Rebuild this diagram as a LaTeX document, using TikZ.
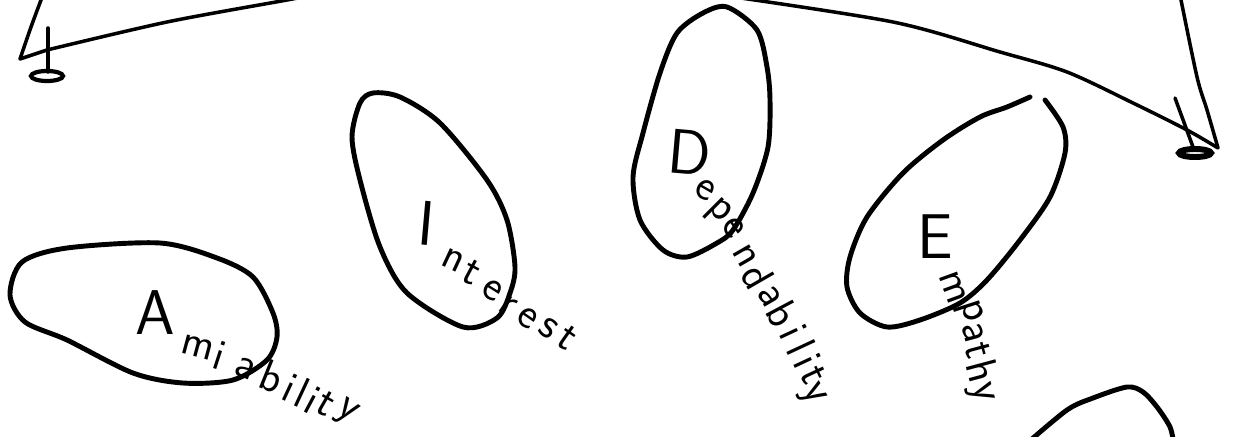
\documentclass[tikz,border=0pt]{standalone}
\begin{document}
\begin{tikzpicture}[x=0.02cm,y=-0.02cm,
    blob/.style={line width=2.8pt, line join=round, line cap=round},
    rim/.style={line width=2pt, line join=round, line cap=round},
    bigletter/.style={font=\sffamily\fontsize{36}{36}\selectfont, inner sep=0pt},
    smallletter/.style={font=\sffamily\fontsize{25}{25}\selectfont, inner sep=0pt}]
    \clip (0,0) rectangle (1239,436);
    % banner over the top
    \draw[rim] plot[smooth] coordinates {(44,-8) (31,27) (20,59)}
        -- (47,50) -- plot[smooth] coordinates {(47,50) (167,22) (287,0) (330,-8)};
    \draw[rim] plot[smooth] coordinates {(720,-5) (893,22) (1000,52) (1067,72) (1133,103) (1187,130) (1218,148)}
        -- plot[smooth] coordinates {(1218,148) (1207,110) (1197,77) (1180,-5)};
    % the two ticks
    \draw[rim] (48,28) -- (48,72);
    \draw[line width=2.4pt] (47,76) ellipse (16 and 5);
    \draw[rim] (1175,98) -- (1193,147);
    \draw[line width=3.4pt] (1195,153) ellipse (16 and 4);
    % the blobs
    \draw[blob] plot[smooth cycle] coordinates {(10,295) (22,262) (67,248) (160,243) (217,258) (253,277)
        (273,313) (277,337) (267,360) (233,380) (183,383) (133,373) (67,340) (25,322)};
    \draw[blob] plot[smooth cycle] coordinates {(373,93) (400,97) (440,123) (487,180) (507,220) (515,267)
        (510,293) (497,318) (463,327) (407,293) (380,247) (360,180) (352,137) (360,103)};
    \draw[blob] plot[smooth cycle] coordinates {(727,7) (757,30) (767,67) (770,100) (768,147) (753,193)
        (733,230) (717,243) (687,257) (663,250) (640,220) (633,177) (643,133) (660,73) (677,33) (703,13)};
    \draw[blob] plot[smooth] coordinates {(1045,100) (1063,127) (1065,153) (1050,197) (1020,240) (987,280)
        (960,303) (920,320) (887,327) (860,313) (847,287) (850,257) (867,217) (903,173) (943,140)
        (980,117) (1007,107) (1030,97)};
    \draw[blob] plot[smooth] coordinates {(1025,445) (1067,410) (1093,398) (1127,387) (1143,392)
        (1157,407) (1170,427) (1174,445)};
    % words
    \node[bigletter] (amiA) at (155,313) {A};
    \foreach \ch/\px/\py/\ang [count=\k] in {m/198/347/-15, i/220/355/-18, a/245/368/-22, b/272/377/-22,
        i/290/388/-25, l/302/393/-25, i/313/400/-28, t/326/404/-30, y/346/413/-35}
        \node[smallletter, rotate=\ang] (ami\k) at (\px,\py) {\ch};
    \node[bigletter, rotate=-5] (intI) at (427,223) {I};
    \foreach \ch/\px/\py/\ang [count=\k] in {n/453/260/-25, t/472/272/-28, e/492/290/-32, r/508/306/-35,
        e/527/318/-35, s/548/328/-35, t/567/338/-35}
        \node[smallletter, rotate=\ang] (int\k) at (\px,\py) {\ch};
    \node[bigletter, rotate=-5] (depD) at (690,153) {D};
    \foreach \ch/\px/\py/\ang [count=\k] in {e/705/190/-30, p/718/212/-45, e/734/228/-55, n/745/256/-60,
        d/758/276/-60, a/770/296/-60, b/783/314/-62, i/793/332/-65, l/801/347/-65, i/807/361/-65,
        t/813/375/-65, y/812/395/-60}
        \node[smallletter, rotate=\ang] (dep\k) at (\px,\py) {\ch};
    \node[bigletter] (empE) at (935,237) {E};
    \foreach \ch/\px/\py/\ang [count=\k] in {m/953/288/-70, p/969/312/-72, a/973/333/-75, t/978/351/-75,
        h/983/371/-75, y/980/393/-75}
        \node[smallletter, rotate=\ang] (emp\k) at (\px,\py) {\ch};
\end{tikzpicture}
\end{document}
